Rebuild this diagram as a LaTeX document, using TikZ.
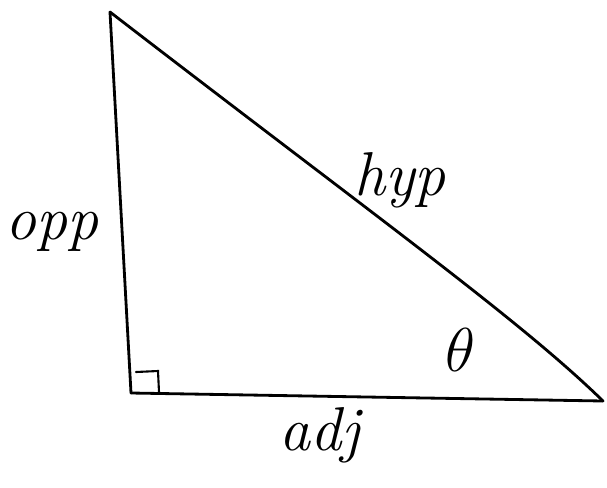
\documentclass[tikz,border=0pt]{standalone}
\usepackage{amsmath,amssymb}
\usepackage{tikz}
\usetikzlibrary{calc}

\begin{document}
\begin{tikzpicture}[
    x=0.02cm, y=-0.02cm,
    side/.style={line width=1.6pt, line cap=round, line join=round},
    lbl/.style={font=\huge\itshape, scale=1.7, inner sep=1pt},
  ]
  \useasboundingbox (0,0) rectangle (607,487);
  % corners of the triangle
  \coordinate (top) at (110,12);
  \coordinate (ra) at (131,393);
  \coordinate (rt) at (603,401);
  \draw[side] (ra) -- (top);
  \draw[side] (top) .. controls (380,220) and (520,320) .. (rt);
  \draw[side] (ra) -- (rt);
  % right angle mark
  \draw[line width=1.2pt, line cap=round] ($(ra)+(5,-21)$) -- ($(ra)+(27,-22)$) -- ($(ra)+(28,-1)$);
  \node[lbl] (opp) at (52,232) {opp};
  \node[lbl] (hyp) at (400,180) {hyp};
  \node[lbl] (theta) at (460,350) {$\theta$};
  \node[lbl] (adj) at (320,435) {adj};
\end{tikzpicture}
\end{document}
